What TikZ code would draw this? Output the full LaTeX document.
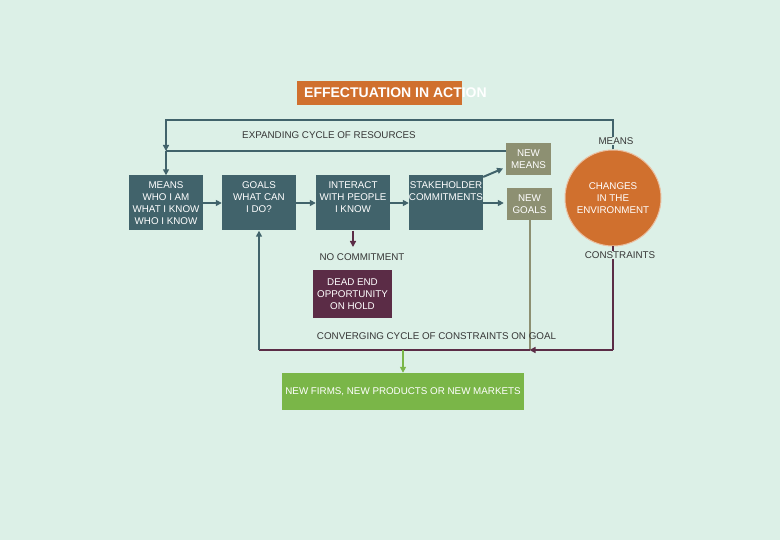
\documentclass[tikz,border=0pt]{standalone}
\usepackage{fontspec}
\setmainfont{Liberation Sans}
\usetikzlibrary{positioning, arrows.meta}
\definecolor{bgmint}{RGB}{220,240,231}
\definecolor{boxteal}{RGB}{65,99,107}
\definecolor{effor}{RGB}{208,112,46}
\definecolor{olivegr}{RGB}{141,144,114}
\definecolor{deadpurp}{RGB}{91,44,70}
\definecolor{newgreen}{RGB}{122,182,72}
\definecolor{txtgrey}{RGB}{55,55,55}
\tikzset{
  cyc/.style={font=\fontsize{9.8}{12}\selectfont, text=txtgrey, inner sep=1pt},
  stepbox/.style={fill=boxteal, minimum width=74pt, minimum height=55pt, inner sep=0pt},
  boxtext/.style={font=\fontsize{9.8}{12}\selectfont, text=white, align=center},
  newbox/.style={fill=olivegr, minimum width=45pt, minimum height=32pt, inner sep=0pt, boxtext},
  tip/.style={-{Triangle[length=6pt,width=6pt]}},
  flow/.style={line width=2pt, draw=boxteal},
  cons/.style={line width=2pt, draw=deadpurp},
}
\begin{document}
\begin{tikzpicture}[x=1pt, y=-1pt]
  \path[fill=bgmint, use as bounding box] (0,0) rectangle (780,540);
  \node[fill=effor, minimum width=165pt, minimum height=24pt] (title) at (379.5,93) {};
  \node[anchor=west, font=\bfseries\fontsize{14}{15}\selectfont, text=white, inner sep=0pt] (titletext) at (304,93) {EFFECTUATION IN ACTION};
  \node[stepbox, label={[boxtext, anchor=north, inner sep=6pt]north:{MEANS\\WHO I AM\\WHAT I KNOW\\WHO I KNOW}}] (means) at (166,203) {};
  \node[stepbox, label={[boxtext, anchor=north, inner sep=6pt]north:{GOALS\\WHAT CAN\\I DO?}}] (goals) at (259,203) {};
  \node[stepbox, label={[boxtext, anchor=north, inner sep=6pt]north:{INTERACT\\WITH PEOPLE\\I KNOW}}] (interact) at (353,203) {};
  \node[stepbox, label={[boxtext, anchor=north, inner sep=6pt]north:{STAKEHOLDER\\COMMITMENTS}}] (stake) at (446,203) {};
  \node[newbox] (newmeans) at (528.5,159) {NEW\\MEANS};
  \node[newbox] (newgoals) at (529.5,204) {NEW\\GOALS};
  \node[circle, fill=effor, draw=effor!45!white, line width=1pt, minimum size=96pt, boxtext] (env) at (613,198) {CHANGES\\IN THE\\ENVIRONMENT};
  \node[fill=deadpurp, minimum width=79pt, minimum height=48pt, boxtext] (deadend) at (352.5,294) {DEAD END\\OPPORTUNITY\\ON HOLD};
  \node[fill=newgreen, minimum width=242pt, minimum height=37pt, boxtext] (newfirms) at (403,391.5) {NEW FIRMS, NEW PRODUCTS OR NEW MARKETS};
  \coordinate (topR) at (613,120);
  \coordinate (topL) at (166,120);
  \coordinate (split) at (166,151);
  \coordinate (botR) at (613,350);
  \coordinate (meet) at (529.5,350);
  \coordinate (botL) at (259,350);
  \coordinate (nc) at (353,247);
  \draw[flow, tip] (means) -- (goals);
  \draw[flow, tip] (goals) -- (interact);
  \draw[flow, tip] (interact) -- (stake);
  \draw[flow, tip, shorten >=3pt] (stake.35) -- (newmeans.200);
  \draw[flow, tip, shorten >=3pt] (stake.east) -- (stake.east -| newgoals.west);
  \draw[flow, tip] (env.north) -- (topR) -- (topL) -- (split);
  \draw[flow] (newmeans.west |- split) -- (split);
  \draw[flow, tip] (split) -- (means.north);
  \draw[cons, tip] (interact.south) -- (nc);
  \draw[line width=2pt, draw=olivegr] (newgoals.south) -- (meet);
  \draw[cons] (env.south) -- (botR);
  \draw[cons, tip] (botR) -- (meet);
  \draw[cons] (meet) -- (botL);
  \draw[flow, tip] (botL) -- (goals.south);
  \draw[line width=2pt, draw=newgreen, tip] (403,350) -- (newfirms.north);
  \node[cyc] (expanding) at (329,135) {EXPANDING CYCLE OF RESOURCES};
  \node[cyc, fill=bgmint] (meanslbl) at (616,141) {MEANS};
  \node[cyc, fill=bgmint] (conslbl) at (620,255) {CONSTRAINTS};
  \node[cyc] (nocommit) at (362,257) {NO COMMITMENT};
  \node[cyc] (converging) at (436.5,336) {CONVERGING CYCLE OF CONSTRAINTS ON GOAL};
\end{tikzpicture}
\end{document}
